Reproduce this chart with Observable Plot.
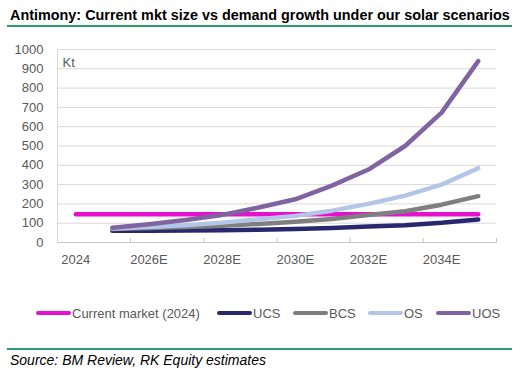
<!DOCTYPE html>
<html>
<head>
<meta charset="utf-8">
<script src="https://cdn.jsdelivr.net/npm/d3@7"></script>
<script src="https://cdn.jsdelivr.net/npm/@observablehq/plot@0.6"></script>
<style>
  html, body { margin: 0; padding: 0; background: #fff; }
  #wrap { position: relative; width: 520px; height: 376px; overflow: hidden; font-family: "Liberation Sans", Arial, sans-serif; }
  #title { position: absolute; left: 10px; top: 7px; font-size: 14.4px; font-weight: bold; color: #000; white-space: nowrap; }
  .rule { position: absolute; left: 7px; width: 505px; height: 2px; background: #2e9b6b; }
  #chart { position: absolute; left: 0; top: 40px; }
  #legend { position: absolute; left: 0; top: 304px; width: 520px; height: 18px; font-size: 13px; color: #595959; }
  .item { position: absolute; top: 0; display: flex; align-items: center; height: 18px; white-space: nowrap; }
  .sw { width: 35px; height: 4px; border-radius: 2px; margin-right: 1px; }
  #source { position: absolute; left: 10px; top: 352px; font-size: 14px; font-style: italic; color: #000; white-space: nowrap; }
</style>
</head>
<body>
<div id="wrap">
  <div id="title">Antimony: Current mkt size vs demand growth under our solar scenarios</div>
  <div class="rule" style="top:25px"></div>
  <div id="chart"></div>
  <div id="legend"></div>
  <div class="rule" style="top:348px"></div>
  <div id="source">Source: BM Review, RK Equity estimates</div>
</div>
<script>
// ---- data ----
const years = [2024, 2025, 2026, 2027, 2028, 2029, 2030, 2031, 2032, 2033, 2034, 2035];
const currentMarket = [147, 147, 147, 147, 147, 147, 147, 147, 147, 147, 147, 147];
const scenarioYears = [2025, 2026, 2027, 2028, 2029, 2030, 2031, 2032, 2033, 2034, 2035];
const ucs = [61, 61, 62, 64, 66, 70, 75, 83, 90, 102, 119];
const bcs = [70, 75, 80, 87, 96, 108, 122, 142, 162, 196, 240];
const os  = [73, 80, 90, 103, 120, 138, 165, 200, 243, 300, 385];
const uos = [77, 95, 117, 143, 181, 224, 295, 378, 500, 673, 940];
const seriesNames = ["Current market (2024)", "UCS", "BCS", "OS", "UOS"];
const seriesColors = ["#e70fd0", "#29286e", "#7f7f7f", "#b4c6e7", "#8064a2"];
const yTicks = [0, 100, 200, 300, 400, 500, 600, 700, 800, 900, 1000];
const xLabelYears = [2024, 2026, 2028, 2030, 2032, 2034];
const xTickBounds = [2025.5, 2027.5, 2029.5, 2031.5, 2033.5, 2035.5];
const unitLabel = "Kt";

// ---- table ----
const rows = [];
years.forEach((y, i) => rows.push({year: y, value: currentMarket[i], series: seriesNames[0]}));
[ucs, bcs, os, uos].forEach((arr, k) => {
  scenarioYears.forEach((y, i) => rows.push({year: y, value: arr[i], series: seriesNames[k + 1]}));
});

const fmtYear = y => y === years[0] ? String(y) : y + "E";

const chart = Plot.plot({
  width: 520,
  height: 236,
  marginLeft: 57,
  marginRight: 24,
  marginTop: 9,
  marginBottom: 34,
  style: {fontFamily: "'Liberation Sans', Arial, sans-serif", fontSize: "13px", color: "#595959", background: "transparent"},
  x: {domain: [years[0] - 0.5, years[years.length - 1] + 0.5]},
  y: {domain: [0, 1000]},
  color: {domain: seriesNames, range: seriesColors},
  marks: [
    Plot.ruleY(yTicks, {stroke: "#d9d9d9", strokeWidth: 1}),
    Plot.ruleX([years[0] - 0.5], {stroke: "#d9d9d9", strokeWidth: 1}),
    Plot.ruleY([0], {stroke: "#c8c8c8", strokeWidth: 1}),
    Plot.ruleX(xTickBounds, {y1: 0, y2: 0, insetTop: 1, insetBottom: 4, stroke: "#c8c8c8"}),
    Plot.axisY(yTicks, {tickSize: 0, tickPadding: 14, fill: "#595959", fontSize: 13, tickFormat: d => String(d), label: null}),
    Plot.axisX(xLabelYears, {tickSize: 0, tickPadding: 12, fill: "#595959", fontSize: 13, tickFormat: fmtYear, label: null}),
    Plot.text([unitLabel], {frameAnchor: "top-left", dx: 5, dy: 8, fill: "#595959", fontSize: 13}),
    Plot.line(rows, {x: "year", y: "value", z: "series", stroke: "series", strokeWidth: 4.5, strokeLinecap: "round", strokeLinejoin: "round"})
  ]
});
document.getElementById("chart").appendChild(chart);

// ---- legend ----
const legend = document.getElementById("legend");
const legendX = [36, 217, 293, 368, 436];
seriesNames.forEach((name, i) => {
  const it = document.createElement("div");
  it.className = "item";
  it.style.left = legendX[i] + "px";
  const sw = document.createElement("div");
  sw.className = "sw";
  sw.style.background = seriesColors[i];
  const tx = document.createElement("span");
  tx.textContent = name;
  it.appendChild(sw);
  it.appendChild(tx);
  legend.appendChild(it);
});
</script>
</body>
</html>
